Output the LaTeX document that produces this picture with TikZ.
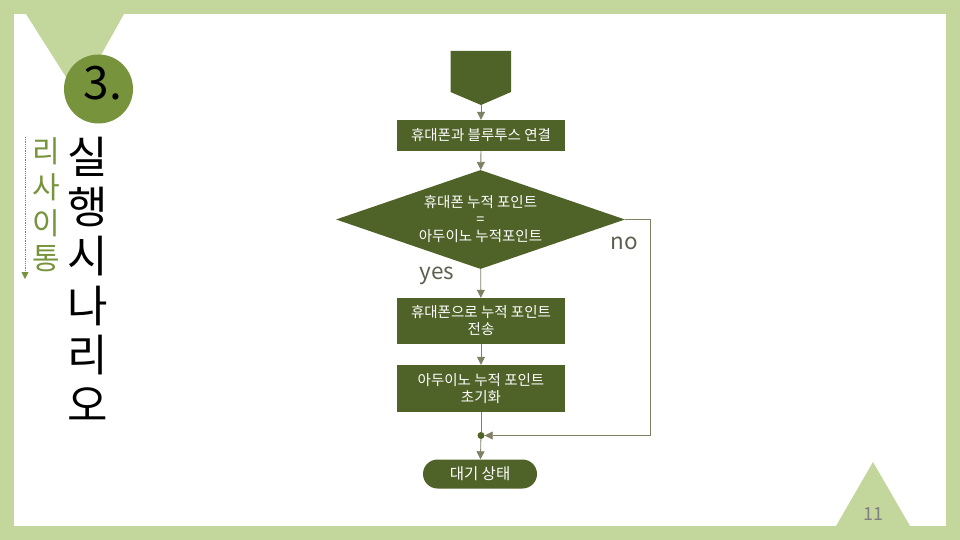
\documentclass[tikz,border=0pt]{standalone}
\usepackage{fontspec}
\setmainfont{Noto Sans CJK KR}
\usetikzlibrary{arrows.meta, positioning, shapes.geometric, calc}
\definecolor{framegreen}{RGB}{195,214,155}
\definecolor{olive}{RGB}{119,147,60}
\definecolor{darkolive}{RGB}{79,98,40}
\definecolor{linegray}{RGB}{128,128,100}
\definecolor{labelgray}{RGB}{95,95,80}

\begin{document}
\begin{tikzpicture}[x=1pt, y=-1pt,
    box/.style={fill=darkolive, text=white, minimum width=168pt, align=center,
        font=\fontsize{14.5}{17}\selectfont, inner sep=0pt},
    check/.style={diamond, fill=darkolive, text=white, aspect=2.9, inner sep=0pt,
        minimum width=289pt, minimum height=99pt, align=center,
        font=\fontsize{14.5}{17}\selectfont},
    terminal/.style={fill=darkolive, text=white, rounded corners=14.5pt,
        minimum width=114pt, minimum height=29pt, inner sep=0pt,
        font=\fontsize{15.5}{16}\selectfont},
    flow/.style={linegray, thick, -{Triangle[width=8pt, length=8pt]}},
    plain/.style={linegray, thick}]
    \useasboundingbox (0,0) rectangle (960,540);

    % frame
    \fill[framegreen] (0,0) rectangle (960,540);
    \fill[white] (14,14) rectangle (946,526);
    \fill[framegreen] (26,14) -- (124,14) -- (78,96) -- cycle;
    \fill[framegreen] (836,526) -- (873,462) -- (910,526) -- cycle;
    \node[text=gray, font=\fontsize{18}{18}\selectfont] (page) at (873,514) {11};

    % chapter number
    \fill[olive] (98.5,89) circle (34.5);
    \node[font=\fontsize{46}{46}\selectfont] (num) at (103,83) {3.};

    % titles
    \foreach \ch [count=\i] in {실,행,시,나,리,오}
        \node[font=\fontsize{44}{44}\selectfont] (title\i) at (88,{157+(\i-1)*49.5}) {\ch};
    \foreach \ch [count=\i] in {리,사,이,통}
        \node[olive, font=\fontsize{30}{30}\selectfont] (side\i) at (46,{151+(\i-1)*36}) {\ch};
    \coordinate (dtop) at (25,137);
    \coordinate (dbot) at (25,279);
    \draw[olive, thick, densely dotted, -{Triangle[width=7pt, length=7pt]}] (dtop) -- (dbot);

    % flowchart
    \fill[darkolive] (450.5,51) -- (511,51) -- (511,92) -- (481,105) -- (450.5,92) -- cycle;
    \coordinate (start) at (481,105);
    \node[box, minimum height=31pt] (link) at (481,135.5) {휴대폰과 블루투스 연결};
    \node[check] (same) at (480.5,219.5) {휴대폰 누적 포인트\\=\\아두이노 누적포인트};
    \node[box, minimum height=46pt] (send) at (481,321) {휴대폰으로 누적 포인트\\전송};
    \node[box, minimum height=47pt] (reset) at (481,388.5) {아두이노 누적 포인트\\초기화};
    \node[circle, fill=darkolive, minimum size=7pt, inner sep=0pt] (merge) at (481,435.5) {};
    \node[terminal] (idle) at (480,474) {대기 상태};

    \node[labelgray, font=\fontsize{22.5}{22.5}\selectfont] (yes) at (437,276) {yes};
    \node[labelgray, font=\fontsize{22.5}{22.5}\selectfont] (no) at (624,243) {no};

    \draw[flow] (start) -- (link);
    \draw[flow] (link) -- (same);
    \draw[flow] (same) -- (send);
    \draw[flow] (send) -- (reset);
    \draw[plain] (reset) -- (merge);
    \draw[flow] (merge) -- (idle);
    \draw[flow] (same.east) -- ++(25,0) |- (merge);
\end{tikzpicture}
\end{document}
